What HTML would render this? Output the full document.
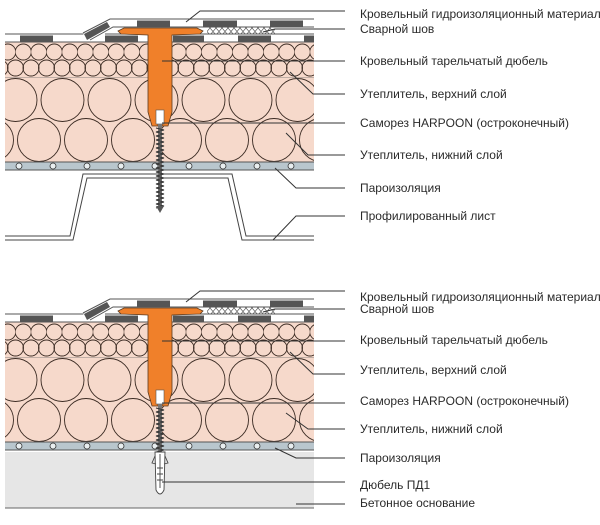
<!DOCTYPE html>
<html><head><meta charset="utf-8"><style>
html,body{margin:0;padding:0;background:#fff;width:600px;height:525px;overflow:hidden}
svg{display:block}
text{font-family:"Liberation Sans",sans-serif;font-size:12px;fill:#2a2a2a}
</style></head><body>
<svg width="600" height="525" viewBox="0 0 600 525" xmlns="http://www.w3.org/2000/svg">
<defs>
<pattern id="small" x="0" y="42" width="15.5" height="36" patternUnits="userSpaceOnUse">
<rect width="15.5" height="36" fill="#f6d9cb"/>
<circle cx="7.75" cy="10" r="8" fill="none" stroke="#3a2a22" stroke-width="0.9"/>
<circle cx="0" cy="26" r="8" fill="none" stroke="#3a2a22" stroke-width="0.9"/>
<circle cx="15.5" cy="26" r="8" fill="none" stroke="#3a2a22" stroke-width="0.9"/>
</pattern>
<pattern id="big" x="-8" y="78" width="47" height="84" patternUnits="userSpaceOnUse">
<rect width="47" height="84" fill="#f6d9cb"/>
<circle cx="23.5" cy="22" r="21.5" fill="none" stroke="#3a2a22" stroke-width="0.9"/>
<circle cx="0" cy="62" r="21.5" fill="none" stroke="#3a2a22" stroke-width="0.9"/>
<circle cx="47" cy="62" r="21.5" fill="none" stroke="#3a2a22" stroke-width="0.9"/>
</pattern>
<pattern id="vap" x="2" y="162" width="34" height="8" patternUnits="userSpaceOnUse">
<rect width="34" height="8" fill="#b9c6cd"/>
<circle cx="17" cy="4" r="3" fill="#e8eef0" stroke="#333" stroke-width="0.8"/>
</pattern>
<pattern id="hatch" width="6" height="7" patternUnits="userSpaceOnUse">
<path d="M0 0L6 7M6 0L0 7" stroke="#555" stroke-width="0.7"/>
</pattern>
<g id="roof">
<rect x="5" y="42" width="309" height="36" fill="url(#small)"/>
<line x1="5" y1="78" x2="314" y2="78" stroke="#666" stroke-width="0.8"/>
<rect x="5" y="78" width="309" height="84" fill="url(#big)"/>
<rect x="5" y="162" width="309" height="8" fill="url(#vap)"/>
<line x1="5" y1="162" x2="314" y2="162" stroke="#555" stroke-width="1"/>
<line x1="5" y1="170" x2="314" y2="170" stroke="#555" stroke-width="1"/>
<rect x="5" y="35" width="309" height="7" fill="#fff"/>
<line x1="5" y1="34" x2="85" y2="34" stroke="#555"/>
<line x1="5" y1="42" x2="314" y2="42" stroke="#555"/>
<line x1="105" y1="34" x2="314" y2="34" stroke="#555"/>
<g fill="#555"><rect x="20" y="35.5" width="33" height="6"/><rect x="105" y="35.5" width="33" height="6"/><rect x="173" y="35.5" width="31" height="6"/><rect x="238" y="35.5" width="33" height="6"/><rect x="304" y="35.5" width="10" height="6"/></g>
<polygon points="83,34 110,19 314,19 314,27 115,27 92,40" fill="#fff"/>
<polyline points="83,33 110,19 314,19" fill="none" stroke="#555"/>
<polyline points="90,40 113,27 314,27" fill="none" stroke="#555"/>
<polygon points="84,34 107,22 110,27 87,40" fill="#555"/>
<g fill="#555"><rect x="137" y="20.5" width="33" height="6"/><rect x="203" y="20.5" width="34" height="6"/><rect x="270" y="20.5" width="33" height="6"/></g>
<rect x="207" y="27.5" width="68" height="6" fill="url(#hatch)"/>
<path d="M118,31 L124,28 L197,28 L203,31 L200,34 L172,35 L172,112 L168,126 L162,126 L162,112 L158,112 L158,126 L152,126 L148,112 L148,35 L121,34 Z" fill="#f0802a" stroke="#5a3a20" stroke-width="0.8"/>
<rect x="156" y="110" width="8" height="14" fill="#fff" stroke="#555" stroke-width="0.6"/>
</g>
<path id="thread" d="M156,128 l8,2 l-8,2 l8,2 l-8,2 l8,2 l-8,2 l8,2 l-8,2 l8,2 l-8,2 l8,2 l-8,2 l8,2 l-8,2 l8,2 l-8,2 l8,2 l-8,2 l8,2 l-8,2 l8,2 l-8,2 l8,2 l-8,2 l8,2 l-8,2 l8,2 l-8,2 l8,2 l-8,2 l8,2 l-8,2 l8,2 l-8,2 l8,2 l-8,2 l8,2 l-8,2 l8,2 l-8,2" fill="none" stroke="#333" stroke-width="1"/>
</defs>

<use href="#roof"/>
<polyline points="5,236 70,236 83,174 232,174 246,236 314,236" fill="none" stroke="#444" stroke-width="1"/>
<polyline points="5,240 73,240 87,178 228,178 242,240 314,240" fill="none" stroke="#444" stroke-width="1"/>
<rect x="84" y="175" width="146" height="2.5" fill="#fff"/>
<rect x="158" y="124" width="4" height="82" fill="#777"/>
<use href="#thread"/>
<path d="M156,206 L160,213 L164,206 Z" fill="#555"/>
<g stroke="#333" stroke-width="1" fill="none">
<polyline points="345,11 200,11 186,22"/>
<polyline points="345,29 275,29 263,32"/>
<line x1="345" y1="61" x2="162" y2="61"/>
<polyline points="345,94 313,94 290,72"/>
<line x1="345" y1="123" x2="162" y2="123"/>
<polyline points="345,155 308,155 286,133"/>
<polyline points="345,188 296,188 275,168"/>
<polyline points="345,216 296,216 273,240"/>
</g>
<text x="360" y="18">Кровельный гидроизоляционный материал</text>
<text x="360" y="33">Сварной шов</text>
<text x="360" y="65">Кровельный тарельчатый дюбель</text>
<text x="360" y="98">Утеплитель, верхний слой</text>
<text x="360" y="127">Саморез HARPOON (остроконечный)</text>
<text x="360" y="159">Утеплитель, нижний слой</text>
<text x="360" y="192">Пароизоляция</text>
<text x="360" y="220">Профилированный лист</text>

<g transform="translate(0,280)">
<rect x="5" y="172" width="309" height="56" fill="#e6e6e6"/>
<line x1="5" y1="228" x2="314" y2="228" stroke="#666" stroke-width="1"/>
<use href="#roof"/>
<rect x="158" y="124" width="4" height="50" fill="#777"/>
<path d="M156,128 l8,2 l-8,2 l8,2 l-8,2 l8,2 l-8,2 l8,2 l-8,2 l8,2 l-8,2 l8,2 l-8,2 l8,2 l-8,2 l8,2 l-8,2 l8,2 l-8,2 l8,2 l-8,2 l8,2 l-8,2 l8,2 l-8,2" fill="none" stroke="#333" stroke-width="1"/>
<path d="M155,172 L165,172 L164,210 Q160,218 156,210 Z" fill="#fff" stroke="#444" stroke-width="0.9"/>
<path d="M155,176 l-3,7 l4,1 M165,176 l3,7 l-4,1 M157,188 h6 M157,194 h6 M157,200 h6 M160,174 v34" stroke="#444" stroke-width="0.9" fill="none"/>
<g stroke="#333" stroke-width="1" fill="none">
<polyline points="345,11 200,11 186,22"/>
<polyline points="345,29 275,29 263,32"/>
<line x1="345" y1="61" x2="162" y2="61"/>
<polyline points="345,94 313,94 290,72"/>
<line x1="345" y1="123" x2="162" y2="123"/>
<polyline points="345,149 308,149 286,133"/>
<polyline points="345,178 296,178 275,168"/>
<line x1="345" y1="202" x2="162" y2="202"/>
<line x1="345" y1="224" x2="296" y2="224"/>
</g>
</g>
<text x="360" y="301">Кровельный гидроизоляционный материал</text>
<text x="360" y="313">Сварной шов</text>
<text x="360" y="344">Кровельный тарельчатый дюбель</text>
<text x="360" y="374">Утеплитель, верхний слой</text>
<text x="360" y="405">Саморез HARPOON (остроконечный)</text>
<text x="360" y="433">Утеплитель, нижний слой</text>
<text x="360" y="462">Пароизоляция</text>
<text x="360" y="489">Дюбель ПД1</text>
<text x="360" y="507">Бетонное основание</text>
</svg>
</body></html>
